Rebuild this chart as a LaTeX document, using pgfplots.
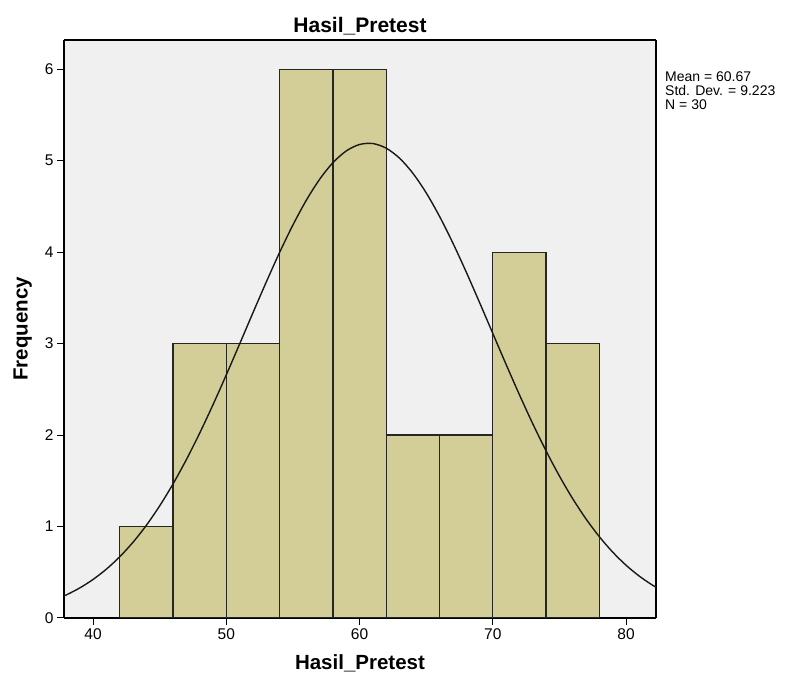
\documentclass[border=0pt]{standalone}
\usepackage{pgfplots}
\pgfplotsset{compat=1.18}
\usepackage{fontspec}
\setmainfont{Liberation Sans}

\definecolor{plotbg}{HTML}{F0F0F0}
\definecolor{barfill}{HTML}{D3CE97}
\definecolor{frameg}{HTML}{8C8C8C}

\begin{document}
\begin{tikzpicture}
  \begin{axis}[
      scale only axis,
      width=592pt, height=578pt,
      xmin=37.82, xmax=82.25,
      ymin=0, ymax=6.32,
      axis background/.style={fill=plotbg},
      axis line style={frameg, line width=1.3pt},
      separate axis lines,
      x axis line style={black},
      y axis line style={black},
      tick align=outside,
      major tick length=7pt,
      tick style={black, line width=1pt},
      xtick={40,50,60,70,80},
      ytick={0,1,2,3,4,5,6},
      xtick pos=bottom, ytick pos=left,
      ticklabel style={font=\fontsize{15.5}{15}\selectfont},
      /pgf/number format/assume math mode=true,
      xlabel={\textbf{Hasil\_Pretest}},
      ylabel={\textbf{Frequency}},
      xlabel style={font=\fontsize{20.5}{20}\selectfont, yshift=-8pt},
      ylabel style={font=\fontsize{20.5}{20}\selectfont, yshift=6pt},
      title={\textbf{Hasil\_Pretest}},
      title style={font=\fontsize{21}{21}\selectfont, yshift=-5pt},
      clip=true,
    ]
    \addplot[ybar interval, fill=barfill, draw=black!85, line width=1.3pt] coordinates {
      (42,1) (46,3) (50,3) (54,6) (58,6) (62,2) (66,2) (70,4) (74,3) (78,3)
    };
    \addplot[smooth, black!90, line width=1.4pt] coordinates {
      (37,0.1928) (38,0.2531) (39,0.3285) (40,0.4214) (41,0.5341) (42,0.6690)
      (43,0.8282) (44,1.0135) (45,1.2258) (46,1.4651) (47,1.7307) (48,2.0204)
      (49,2.3313) (50,2.6584) (51,2.9960) (52,3.3371) (53,3.6735) (54,3.9967)
      (55,4.2971) (56,4.5664) (57,4.7958) (58,4.9780) (59,5.1066) (60,5.1773)
      (61,5.1877) (62,5.1373) (63,5.0280) (64,4.8635) (65,4.6494) (66,4.3927)
      (67,4.1017) (68,3.7851) (69,3.4522) (70,3.1120) (71,2.7723) (72,2.4410)
      (73,2.1241) (74,1.8267) (75,1.5525) (76,1.3041) (77,1.0827) (78,0.8885)
      (79,0.7204) (80,0.5772) (81,0.4574) (82,0.3581) (83,0.2770)
    };
  \end{axis}
  \node[anchor=north west, align=left, inner sep=0pt,
        font=\fontsize{14}{14}\selectfont] at (601pt,546pt)
        {Mean = 60.67\\Std. Dev. = 9.223\\N = 30};
  \path (-64pt,-66pt) rectangle (723pt,618pt);
\end{tikzpicture}
\end{document}
